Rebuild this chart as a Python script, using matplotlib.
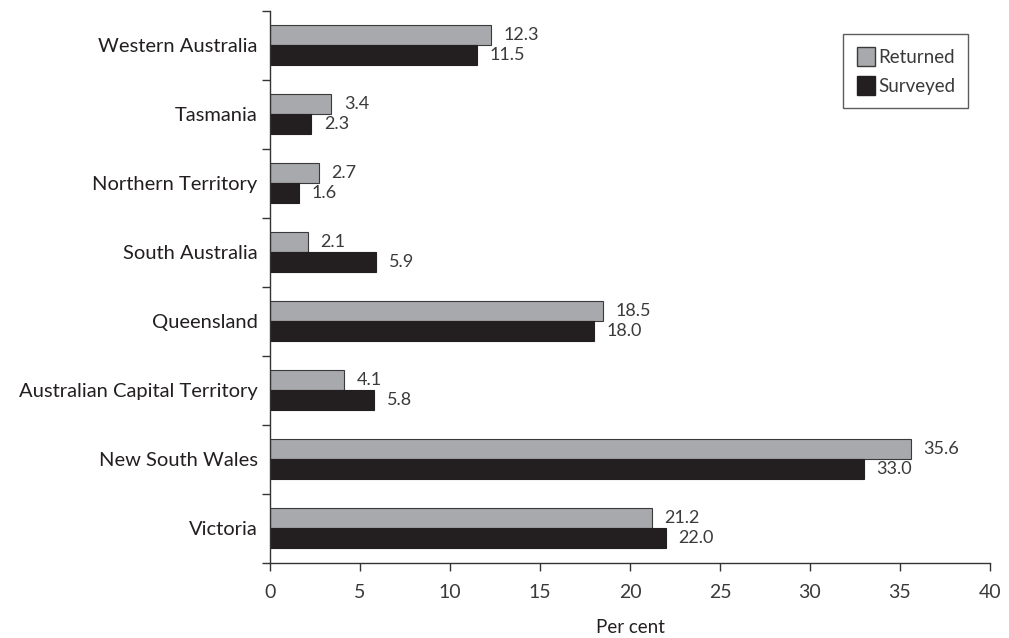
import numpy as np
import matplotlib
matplotlib.use("Agg")
import matplotlib.pyplot as plt
from matplotlib.patches import Patch

plt.rcParams['font.family'] = ['Lato', 'DejaVu Sans']

states = ["Victoria", "New South Wales", "Australian Capital Territory", "Queensland",
          "South Australia", "Northern Territory", "Tasmania", "Western Australia"]
returned = [21.2, 35.6, 4.1, 18.5, 2.1, 2.7, 3.4, 12.3]
surveyed = [22.0, 33.0, 5.8, 18.0, 5.9, 1.6, 2.3, 11.5]

grey = "#a7a9ac"
dark = "#231f20"
txt = "#231f20"

fig = plt.figure(figsize=(10.09, 6.38), dpi=100)
ax = fig.add_axes([0.2676, 0.1176, 0.7135, 0.8654])

y = np.arange(len(states))
h = 0.29
ax.barh(y + h / 2, returned, height=h, color=grey, edgecolor="#3a3a3a", linewidth=0.8)
ax.barh(y - h / 2, surveyed, height=h, color=dark, edgecolor=dark, linewidth=0.8)

for yi, r, s in zip(y, returned, surveyed):
    ax.annotate("%.1f" % r, (r, yi + h / 2), xytext=(9, 0), textcoords="offset points",
                va="center", ha="left", fontsize=13, color="#3a3a3a")
    ax.annotate("%.1f" % s, (s, yi - h / 2), xytext=(9, 0), textcoords="offset points",
                va="center", ha="left", fontsize=13, color="#3a3a3a")

ax.set_xlim(0, 40)
ax.set_xticks(range(0, 41, 5))
ax.set_ylim(-0.5, len(states) - 0.5)
ax.set_yticks(y)
ax.set_yticklabels(states, fontsize=14.5, color=txt)
ax.set_yticks(np.arange(-0.5, len(states), 1), minor=True)
ax.tick_params(axis="y", which="major", length=0, pad=9)
ax.tick_params(axis="y", which="minor", length=6, width=1, color="#333333")
ax.tick_params(axis="x", length=6, width=1, color="#333333", labelsize=14, labelcolor="#3a3a3a", pad=9)
ax.set_xlabel("Per cent", fontsize=13.5, color=txt, labelpad=13)

for side in ["top", "right"]:
    ax.spines[side].set_visible(False)
for side in ["left", "bottom"]:
    ax.spines[side].set_color("#333333")
    ax.spines[side].set_linewidth(1)

handles = [Patch(facecolor=grey, edgecolor="#3a3a3a", label="Returned"),
           Patch(facecolor=dark, edgecolor=dark, label="Surveyed")]
leg = ax.legend(handles=handles, loc="upper right", bbox_to_anchor=(0.97, 0.958),
                borderaxespad=0, fontsize=13.5, frameon=True, fancybox=False,
                handlelength=1.0, handleheight=1.2, handletextpad=0.15,
                borderpad=0.7, labelspacing=0.5)
leg.get_frame().set_edgecolor("#333333")
leg.get_frame().set_linewidth(1)
for t in leg.get_texts():
    t.set_color("#3a3a3a")

fig.savefig("out.png", dpi=100)
